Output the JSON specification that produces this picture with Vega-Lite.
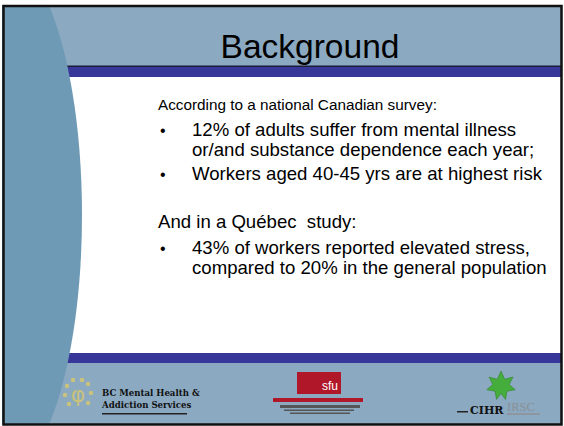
{
  "$schema": "https://vega.github.io/schema/vega-lite/v6.json",
  "width": 564,
  "height": 426,
  "padding": 0,
  "autosize": "none",
  "background": "#ffffff",
  "config": {"view": {"stroke": null}},
  "datasets": {
    "bands": [
      {"part": "band", "x": 3, "x2": 562, "y": 6, "y2": 66},
      {"part": "dark", "x": 3, "x2": 562, "y": 65.5, "y2": 67},
      {"part": "navy", "x": 3, "x2": 562, "y": 67, "y2": 77},
      {"part": "navy", "x": 3, "x2": 562, "y": 353, "y2": 363},
      {"part": "band", "x": 3, "x2": 562, "y": 363, "y2": 424},
      {"part": "sfu", "x": 297, "x2": 341, "y": 372, "y2": 394},
      {"part": "sfu", "x": 273, "x2": 363, "y": 398, "y2": 402},
      {"part": "grey", "x": 280, "x2": 360, "y": 405, "y2": 408},
      {"part": "grey", "x": 284, "x2": 354, "y": 409.5, "y2": 411},
      {"part": "grey", "x": 290, "x2": 350, "y": 412.5, "y2": 414},
      {"part": "black", "x": 102, "x2": 187, "y": 413, "y2": 414.5},
      {"part": "black", "x": 457, "x2": 468, "y": 411, "y2": 412.5},
      {"part": "lightgrey", "x": 507, "x2": 540, "y": 413, "y2": 415}
    ],
    "margins": [
      {"x": 0, "x2": 564, "y": 0, "y2": 5},
      {"x": 0, "x2": 2, "y": 0, "y2": 426},
      {"x": 562, "x2": 564, "y": 0, "y2": 426},
      {"x": 0, "x2": 564, "y": 425, "y2": 426}
    ],
    "frame": [{"x": 3.5, "x2": 561.5, "y": 6, "y2": 424.5}],
    "ellipse": [{"x": 1, "y": 215}],
    "title": [{"t": "Background", "x": 310, "y": 58}],
    "lead": [
      {"t": "According to a national Canadian survey:", "x": 158, "y": 110}
    ],
    "body": [
      {"t": "12% of adults suffer from mental illness", "x": 192, "y": 135.5},
      {"t": "or/and substance dependence each year;", "x": 192, "y": 155.5},
      {"t": "Workers aged 40-45 yrs are at highest risk", "x": 192, "y": 179.5},
      {"t": "And in a Québec \u00a0study:", "x": 158, "y": 228},
      {"t": "43% of workers reported elevated stress,", "x": 192, "y": 253.5},
      {"t": "compared to 20% in the general population", "x": 192, "y": 273.5}
    ],
    "bullets": [
      {"t": "•", "x": 160, "y": 135.5},
      {"t": "•", "x": 160, "y": 179.5},
      {"t": "•", "x": 160, "y": 253.5}
    ],
    "sun": [
      {"x": 91, "y": 393}, {"x": 88, "y": 384}, {"x": 82, "y": 380},
      {"x": 73, "y": 380}, {"x": 67, "y": 386}, {"x": 65, "y": 395},
      {"x": 69, "y": 404}, {"x": 88, "y": 403}
    ],
    "suncore": [{"t": "φ", "x": 78, "y": 402}],
    "bclogo": [
      {"t": "BC Mental Health &", "x": 102, "y": 396},
      {"t": "Addiction Services", "x": 102, "y": 408}
    ],
    "sfutext": [{"t": "sfu", "x": 338, "y": 390}],
    "leaf": [{"x": 501, "y": 386}],
    "cihr": [{"t": "CIHR", "x": 470, "y": 414}],
    "irsc": [{"t": "IRSC", "x": 507, "y": 411}]
  },
  "layer": [
    {
      "data": {"name": "bands"},
      "mark": {"type": "rect"},
      "encoding": {
        "x": {"field": "x", "type": "quantitative", "axis": null, "scale": {"domain": [0, 564], "nice": false, "zero": false}},
        "x2": {"field": "x2"},
        "y": {"field": "y", "type": "quantitative", "axis": null, "scale": {"domain": [0, 426], "nice": false, "zero": false, "reverse": true}},
        "y2": {"field": "y2"},
        "color": {"field": "part", "type": "nominal", "legend": null, "scale": {"domain": ["band", "dark", "navy", "sfu", "grey", "black", "lightgrey"], "range": ["#8ba9c0", "#1d1d3a", "#37379a", "#b0182a", "#555555", "#222222", "#8e96a0"]}}
      }
    },
    {
      "data": {"name": "ellipse"},
      "mark": {"type": "point", "filled": true, "opacity": 1, "color": "#6e9ab5", "strokeWidth": 0, "size": 270400,
        "shape": "M 0 -1 C 0.172 -1 0.3115 -0.5523 0.3115 0 C 0.3115 0.5523 0.172 1 0 1 C -0.172 1 -0.3115 0.5523 -0.3115 0 C -0.3115 -0.5523 -0.172 -1 0 -1 Z"},
      "encoding": {
        "x": {"field": "x", "type": "quantitative", "axis": null},
        "y": {"field": "y", "type": "quantitative", "axis": null}
      }
    },
    {
      "data": {"name": "margins"},
      "mark": {"type": "rect", "color": "#ffffff"},
      "encoding": {
        "x": {"field": "x", "type": "quantitative", "axis": null},
        "x2": {"field": "x2"},
        "y": {"field": "y", "type": "quantitative", "axis": null},
        "y2": {"field": "y2"}
      }
    },
    {
      "data": {"name": "frame"},
      "mark": {"type": "rect", "filled": false, "stroke": "#111111", "strokeWidth": 2.5},
      "encoding": {
        "x": {"field": "x", "type": "quantitative", "axis": null},
        "x2": {"field": "x2"},
        "y": {"field": "y", "type": "quantitative", "axis": null},
        "y2": {"field": "y2"}
      }
    },
    {
      "data": {"name": "title"},
      "mark": {"type": "text", "font": "Liberation Sans", "fontSize": 33.5, "align": "center", "baseline": "alphabetic", "color": "#000000"},
      "encoding": {
        "x": {"field": "x", "type": "quantitative", "axis": null},
        "y": {"field": "y", "type": "quantitative", "axis": null},
        "text": {"field": "t"}
      }
    },
    {
      "data": {"name": "lead"},
      "mark": {"type": "text", "font": "Liberation Sans", "fontSize": 15.3, "align": "left", "baseline": "alphabetic", "color": "#000000"},
      "encoding": {
        "x": {"field": "x", "type": "quantitative", "axis": null},
        "y": {"field": "y", "type": "quantitative", "axis": null},
        "text": {"field": "t"}
      }
    },
    {
      "data": {"name": "body"},
      "mark": {"type": "text", "font": "Liberation Sans", "fontSize": 18.6, "align": "left", "baseline": "alphabetic", "color": "#000000"},
      "encoding": {
        "x": {"field": "x", "type": "quantitative", "axis": null},
        "y": {"field": "y", "type": "quantitative", "axis": null},
        "text": {"field": "t"}
      }
    },
    {
      "data": {"name": "bullets"},
      "mark": {"type": "text", "font": "Liberation Sans", "fontSize": 16, "align": "left", "baseline": "alphabetic", "color": "#000000"},
      "encoding": {
        "x": {"field": "x", "type": "quantitative", "axis": null},
        "y": {"field": "y", "type": "quantitative", "axis": null},
        "text": {"field": "t"}
      }
    },
    {
      "data": {"name": "sun"},
      "mark": {"type": "circle", "size": 20, "opacity": 1, "color": "#c8c27c"},
      "encoding": {
        "x": {"field": "x", "type": "quantitative", "axis": null},
        "y": {"field": "y", "type": "quantitative", "axis": null}
      }
    },
    {
      "data": {"name": "suncore"},
      "mark": {"type": "text", "font": "DejaVu Sans", "fontSize": 22, "align": "center", "baseline": "alphabetic", "color": "#c8c27c"},
      "encoding": {
        "x": {"field": "x", "type": "quantitative", "axis": null},
        "y": {"field": "y", "type": "quantitative", "axis": null},
        "text": {"field": "t"}
      }
    },
    {
      "data": {"name": "bclogo"},
      "mark": {"type": "text", "font": "DejaVu Serif", "fontWeight": "bold", "fontSize": 8.6, "align": "left", "baseline": "alphabetic", "color": "#111111"},
      "encoding": {
        "x": {"field": "x", "type": "quantitative", "axis": null},
        "y": {"field": "y", "type": "quantitative", "axis": null},
        "text": {"field": "t"}
      }
    },
    {
      "data": {"name": "sfutext"},
      "mark": {"type": "text", "font": "Liberation Sans", "fontSize": 12, "align": "right", "baseline": "alphabetic", "color": "#ffffff"},
      "encoding": {
        "x": {"field": "x", "type": "quantitative", "axis": null},
        "y": {"field": "y", "type": "quantitative", "axis": null},
        "text": {"field": "t"}
      }
    },
    {
      "data": {"name": "leaf"},
      "mark": {"type": "point", "filled": true, "opacity": 1, "color": "#45ad3c", "stroke": "#2a7a25", "strokeWidth": 0.5, "size": 900,
        "shape": "M 0 -1 L 0.25 -0.45 L 0.8 -0.6 L 0.55 -0.1 L 0.95 0.25 L 0.4 0.35 L 0.3 0.9 L 0 0.5 L -0.3 0.9 L -0.4 0.35 L -0.95 0.25 L -0.55 -0.1 L -0.8 -0.6 L -0.25 -0.45 Z"},
      "encoding": {
        "x": {"field": "x", "type": "quantitative", "axis": null},
        "y": {"field": "y", "type": "quantitative", "axis": null}
      }
    },
    {
      "data": {"name": "cihr"},
      "mark": {"type": "text", "font": "DejaVu Serif", "fontWeight": "bold", "fontSize": 11, "align": "left", "baseline": "alphabetic", "color": "#111111"},
      "encoding": {
        "x": {"field": "x", "type": "quantitative", "axis": null},
        "y": {"field": "y", "type": "quantitative", "axis": null},
        "text": {"field": "t"}
      }
    },
    {
      "data": {"name": "irsc"},
      "mark": {"type": "text", "font": "Liberation Serif", "fontSize": 12.5, "align": "left", "baseline": "alphabetic", "color": "#8a8f96"},
      "encoding": {
        "x": {"field": "x", "type": "quantitative", "axis": null},
        "y": {"field": "y", "type": "quantitative", "axis": null},
        "text": {"field": "t"}
      }
    }
  ]
}
